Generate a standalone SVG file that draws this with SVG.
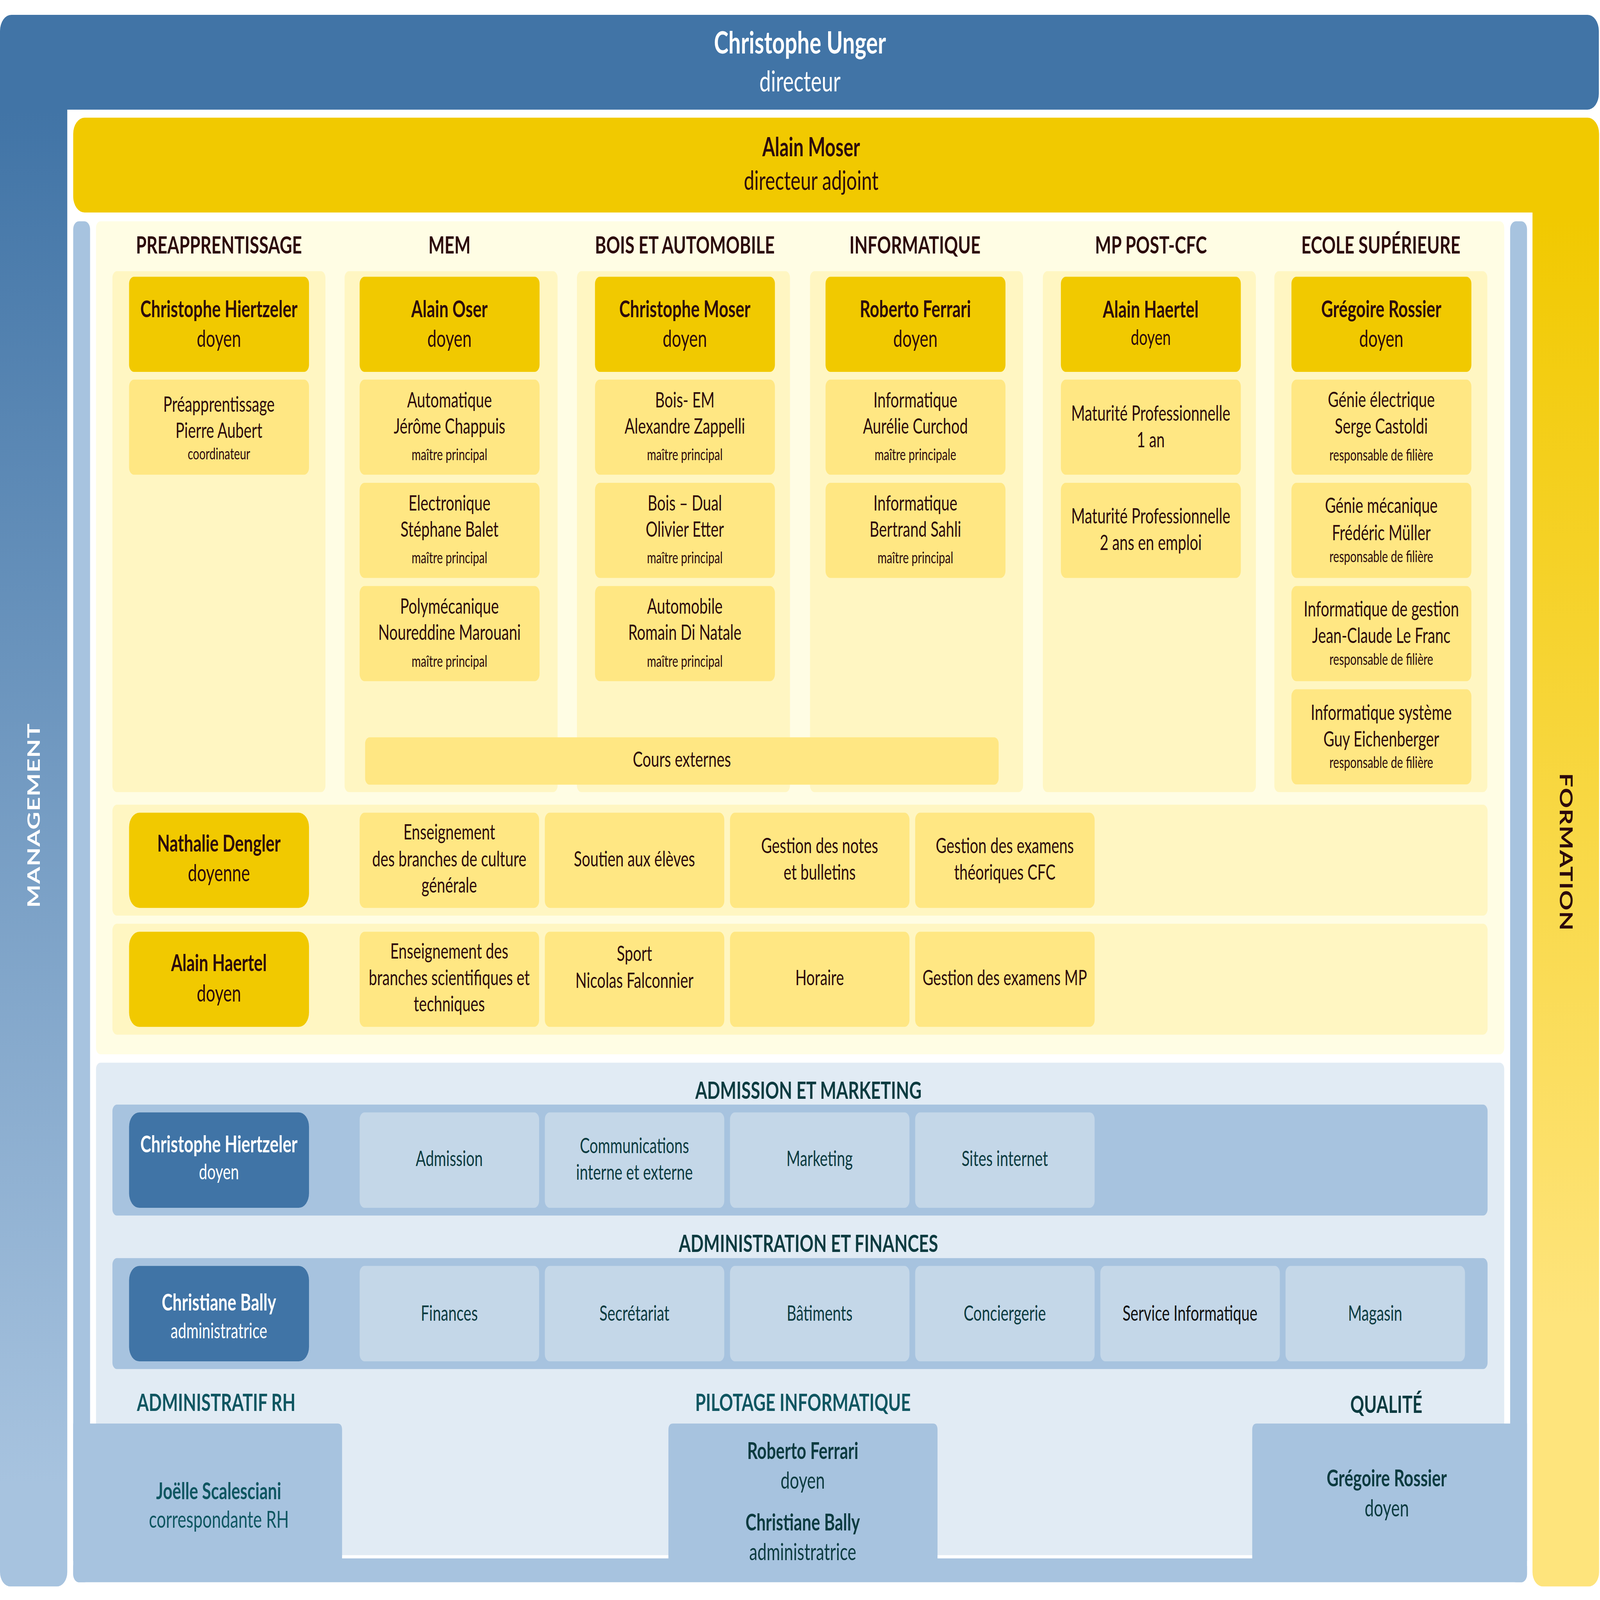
<svg xmlns="http://www.w3.org/2000/svg" width="7016" height="4961" viewBox="0 0 7016 4961" preserveAspectRatio="none" style="width:100vw;height:100vh">
<defs>
<linearGradient id="gBlue" gradientUnits="userSpaceOnUse" x1="0" y1="340" x2="0" y2="4600">
<stop offset="0" stop-color="#4174a6"/><stop offset="1" stop-color="#a7c3df"/>
</linearGradient>
<linearGradient id="gYel" gradientUnits="userSpaceOnUse" x1="0" y1="659" x2="0" y2="4100">
<stop offset="0" stop-color="#f1c900"/><stop offset="1" stop-color="#fee47c"/>
</linearGradient>
<style>
text{font-family:Lato,'Open Sans','Liberation Sans',sans-serif;text-anchor:middle;fill:#2c0a0c}
.h{font-size:75px;font-weight:700}
.nm{font-size:72px;font-weight:700}
.ti{font-size:72px}
.s1{font-size:65px}
.s2{font-size:49px}
.w{fill:#ffffff}
.tk{fill:#0c3b40}
.tt{fill:#0f5661}
.bk{fill:#111111}
.dy{fill:#f1c900}
.sb{fill:#ffe783}
.cb{fill:#fff6c2}
.bd{fill:#4074a6}
.br{fill:#a7c3df}
.bs{fill:#c4d7e8}
</style>
</defs>
<rect width="7016" height="4961" fill="#ffffff"/>

<g id="management">
<path d="M50,46 H6961 A50,50 0 0 1 7011,96 V290 A50,50 0 0 1 6961,340 H295 V4874 A45,45 0 0 1 250,4919 H45 A45,45 0 0 1 0,4874 V96 A50,50 0 0 1 50,46 Z" fill="url(#gBlue)"/>
<text class="w" transform="translate(148,2528) rotate(-90)" x="0" y="27" style="font-size:76px;font-weight:700;letter-spacing:2px">MANAGEMENT</text>
</g>
<g id="directeur">
<text class="w" x="3508" y="166" style="font-size:96px;font-weight:700">Christophe Unger</text>
<text class="w" x="3508" y="284" style="font-size:90px">directeur</text>
</g>

<g id="formation">
<path d="M371,365 H6962 A50,50 0 0 1 7012,415 V4874 A45,45 0 0 1 6967,4919 H6765 A45,45 0 0 1 6720,4874 V659 H371 A50,50 0 0 1 321,609 V415 A50,50 0 0 1 371,365 Z" fill="url(#gYel)"/>
<text transform="translate(6868,2642) rotate(90)" x="0" y="28" style="font-size:78px;font-weight:700;letter-spacing:2px">FORMATION</text>
</g>
<g id="directeur-adjoint">
<text x="3557" y="485" style="font-size:80px;font-weight:700">Alain Moser</text>
<text x="3557" y="589" style="font-size:82px">directeur adjoint</text>
</g>

<g id="frame">
<rect class="br" x="321" y="686" width="74" height="4220" rx="25"/>
<rect class="br" x="6622" y="686" width="74" height="4220" rx="25"/>
<rect class="br" x="321" y="4832" width="6375" height="74" rx="25"/>
<rect x="421" y="686" width="6175" height="2583" rx="20" fill="#fffde4"/>
<rect x="421" y="3295" width="6175" height="1527" rx="20" fill="#e1ebf4"/>
</g>

<g id="col-preapprentissage">
<rect class="cb" x="493" y="841" width="934" height="1615" rx="20"/>
<text class="h" x="960" y="786">PREAPPRENTISSAGE</text>
<rect class="dy" x="566" y="858" width="789" height="295" rx="22"/>
<text class="nm" x="960" y="983">Christophe Hiertzeler</text>
<text class="ti" x="960" y="1075">doyen</text>
<rect class="sb" x="566" y="1177" width="789" height="295" rx="22"/>
<text class="s1" x="960" y="1276">Préapprentissage</text>
<text class="s1" x="960" y="1358">Pierre Aubert</text>
<text class="s2" x="960" y="1424">coordinateur</text>
</g>

<g id="col-mem">
<rect class="cb" x="1511" y="841" width="934" height="1615" rx="20"/>
<text class="h" x="1971" y="786">MEM</text>
<rect class="dy" x="1577" y="858" width="789" height="295" rx="22"/>
<text class="nm" x="1971" y="983">Alain Oser</text>
<text class="ti" x="1971" y="1075">doyen</text>
<rect class="sb" x="1577" y="1177" width="789" height="295" rx="22"/>
<text class="s1" x="1971" y="1263">Automatique</text>
<text class="s1" x="1971" y="1344">Jérôme Chappuis</text>
<text class="s2" x="1971" y="1427">maître principal</text>
<rect class="sb" x="1577" y="1497" width="789" height="295" rx="22"/>
<text class="s1" x="1971" y="1583">Electronique</text>
<text class="s1" x="1971" y="1664">Stéphane Balet</text>
<text class="s2" x="1971" y="1747">maître principal</text>
<rect class="sb" x="1577" y="1817" width="789" height="295" rx="22"/>
<text class="s1" x="1971" y="1903">Polymécanique</text>
<text class="s1" x="1971" y="1984">Noureddine Marouani</text>
<text class="s2" x="1971" y="2067">maître principal</text>
</g>

<g id="col-bois">
<rect class="cb" x="2530" y="841" width="934" height="1615" rx="20"/>
<text class="h" x="3003" y="786">BOIS ET AUTOMOBILE</text>
<rect class="dy" x="2609" y="858" width="789" height="295" rx="22"/>
<text class="nm" x="3003" y="983">Christophe Moser</text>
<text class="ti" x="3003" y="1075">doyen</text>
<rect class="sb" x="2609" y="1177" width="789" height="295" rx="22"/>
<text class="s1" x="3003" y="1263">Bois- EM</text>
<text class="s1" x="3003" y="1344">Alexandre Zappelli</text>
<text class="s2" x="3003" y="1427">maître principal</text>
<rect class="sb" x="2609" y="1497" width="789" height="295" rx="22"/>
<text class="s1" x="3003" y="1583">Bois – Dual</text>
<text class="s1" x="3003" y="1664">Olivier Etter</text>
<text class="s2" x="3003" y="1747">maître principal</text>
<rect class="sb" x="2609" y="1817" width="789" height="295" rx="22"/>
<text class="s1" x="3003" y="1903">Automobile</text>
<text class="s1" x="3003" y="1984">Romain Di Natale</text>
<text class="s2" x="3003" y="2067">maître principal</text>
</g>

<g id="col-informatique">
<rect class="cb" x="3552" y="841" width="934" height="1615" rx="20"/>
<text class="h" x="4012" y="786">INFORMATIQUE</text>
<rect class="dy" x="3620" y="858" width="789" height="295" rx="22"/>
<text class="nm" x="4014" y="983">Roberto Ferrari</text>
<text class="ti" x="4014" y="1075">doyen</text>
<rect class="sb" x="3620" y="1177" width="789" height="295" rx="22"/>
<text class="s1" x="4014" y="1263">Informatique</text>
<text class="s1" x="4014" y="1344">Aurélie Curchod</text>
<text class="s2" x="4014" y="1427">maître principale</text>
<rect class="sb" x="3620" y="1497" width="789" height="295" rx="22"/>
<text class="s1" x="4014" y="1583">Informatique</text>
<text class="s1" x="4014" y="1664">Bertrand Sahli</text>
<text class="s2" x="4014" y="1747">maître principal</text>
</g>

<g id="col-mp">
<rect class="cb" x="4573" y="841" width="934" height="1615" rx="20"/>
<text class="h" x="5047" y="786">MP POST-CFC</text>
<rect class="dy" x="4652" y="858" width="789" height="295" rx="22"/>
<text class="nm" x="5046" y="985">Alain Haertel</text>
<text class="s1" x="5046" y="1070">doyen</text>
<rect class="sb" x="4652" y="1177" width="789" height="295" rx="22"/>
<text class="s1" x="5046" y="1304">Maturité Professionnelle</text>
<text class="s1" x="5046" y="1387">1 an</text>
<rect class="sb" x="4652" y="1497" width="789" height="295" rx="22"/>
<text class="s1" x="5046" y="1623">Maturité Professionnelle</text>
<text class="s1" x="5046" y="1705">2 ans en emploi</text>
</g>

<g id="col-es">
<rect class="cb" x="5588" y="841" width="934" height="1615" rx="20"/>
<text class="h" x="6055" y="786">ECOLE SUPÉRIEURE</text>
<rect class="dy" x="5663" y="858" width="789" height="295" rx="22"/>
<text class="nm" x="6057" y="983">Grégoire Rossier</text>
<text class="ti" x="6057" y="1075">doyen</text>
<rect class="sb" x="5663" y="1177" width="789" height="295" rx="22"/>
<text class="s1" x="6057" y="1262">Génie électrique</text>
<text class="s1" x="6057" y="1345">Serge Castoldi</text>
<text class="s2" x="6057" y="1428">responsable de filière</text>
<rect class="sb" x="5663" y="1497" width="789" height="295" rx="22"/>
<text class="s1" x="6057" y="1590">Génie mécanique</text>
<text class="s1" x="6057" y="1675">Frédéric Müller</text>
<text class="s2" x="6057" y="1743">responsable de filière</text>
<rect class="sb" x="5663" y="1817" width="789" height="295" rx="22"/>
<text class="s1" x="6057" y="1911">Informatique de gestion</text>
<text class="s1" x="6057" y="1994">Jean-Claude Le Franc</text>
<text class="s2" x="6057" y="2062">responsable de filière</text>
<rect class="sb" x="5663" y="2137" width="789" height="295" rx="22"/>
<text class="s1" x="6057" y="2232">Informatique système</text>
<text class="s1" x="6057" y="2315">Guy Eichenberger</text>
<text class="s2" x="6057" y="2381">responsable de filière</text>
</g>

<g id="cours-externes">
<rect class="sb" x="1601" y="2286" width="2778" height="147" rx="20"/>
<text class="s1" x="2990" y="2377">Cours externes</text>
</g>

<g id="row-culture-generale">
<rect class="cb" x="493" y="2495" width="6030" height="344" rx="20"/>
<rect class="dy" x="566" y="2520" width="789" height="295" rx="45"/>
<text class="nm" x="960" y="2640">Nathalie Dengler</text>
<text class="ti" x="960" y="2732">doyenne</text>
<rect class="sb" x="1577" y="2520" width="787" height="295" rx="22"/>
<text class="s1" x="1970" y="2603">Enseignement</text>
<text class="s1" x="1970" y="2686">des branches de culture</text>
<text class="s1" x="1970" y="2768">générale</text>
<rect class="sb" x="2389" y="2520" width="787" height="295" rx="22"/>
<text class="s1" x="2782" y="2686">Soutien aux élèves</text>
<rect class="sb" x="3201" y="2520" width="787" height="295" rx="22"/>
<text class="s1" x="3594" y="2645">Gestion des notes</text>
<text class="s1" x="3594" y="2727">et bulletins</text>
<rect class="sb" x="4013" y="2520" width="787" height="295" rx="22"/>
<text class="s1" x="4406" y="2645">Gestion des examens</text>
<text class="s1" x="4406" y="2727">théoriques CFC</text>
</g>

<g id="row-scientifique">
<rect class="cb" x="493" y="2864" width="6030" height="344" rx="20"/>
<rect class="dy" x="566" y="2889" width="789" height="295" rx="45"/>
<text class="nm" x="960" y="3011">Alain Haertel</text>
<text class="ti" x="960" y="3105">doyen</text>
<rect class="sb" x="1577" y="2889" width="787" height="295" rx="22"/>
<text class="s1" x="1970" y="2972">Enseignement des</text>
<text class="s1" x="1970" y="3055">branches scientifiques et</text>
<text class="s1" x="1970" y="3136">techniques</text>
<rect class="sb" x="2389" y="2889" width="787" height="295" rx="22"/>
<text class="s1" x="2782" y="2980">Sport</text>
<text class="s1" x="2782" y="3063">Nicolas Falconnier</text>
<rect class="sb" x="3201" y="2889" width="787" height="295" rx="22"/>
<text class="s1" x="3594" y="3055">Horaire</text>
<rect class="sb" x="4013" y="2889" width="787" height="295" rx="22"/>
<text class="s1" x="4406" y="3055">Gestion des examens MP</text>
</g>

<g id="admission-marketing">
<text class="h tk" x="3545" y="3407">ADMISSION ET MARKETING</text>
<rect class="br" x="493" y="3425" width="6030" height="344" rx="20"/>
<rect class="bd" x="566" y="3449" width="789" height="296" rx="45"/>
<text class="nm w" x="960" y="3573">Christophe Hiertzeler</text>
<text class="s1 w" x="960" y="3657">doyen</text>
<rect class="bs" x="1577" y="3449" width="787" height="296" rx="22"/>
<text class="s1 tk" x="1970" y="3615">Admission</text>
<rect class="bs" x="2389" y="3449" width="787" height="296" rx="22"/>
<text class="s1 tk" x="2782" y="3576">Communications</text>
<text class="s1 tk" x="2782" y="3658">interne et externe</text>
<rect class="bs" x="3201" y="3449" width="787" height="296" rx="22"/>
<text class="s1 tk" x="3594" y="3615">Marketing</text>
<rect class="bs" x="4013" y="3449" width="787" height="296" rx="22"/>
<text class="s1 tk" x="4406" y="3615">Sites internet</text>
</g>

<g id="administration-finances">
<text class="h tk" x="3545" y="3882">ADMINISTRATION ET FINANCES</text>
<rect class="br" x="493" y="3901" width="6030" height="344" rx="20"/>
<rect class="bd" x="566" y="3925" width="789" height="296" rx="45"/>
<text class="nm w" x="960" y="4064">Christiane Bally</text>
<text class="s1 w" x="960" y="4149">administratrice</text>
<rect class="bs" x="1577" y="3925" width="787" height="296" rx="22"/>
<text class="s1 tk" x="1970" y="4095">Finances</text>
<rect class="bs" x="2389" y="3925" width="787" height="296" rx="22"/>
<text class="s1 tk" x="2782" y="4095">Secrétariat</text>
<rect class="bs" x="3201" y="3925" width="787" height="296" rx="22"/>
<text class="s1 tk" x="3594" y="4095">Bâtiments</text>
<rect class="bs" x="4013" y="3925" width="787" height="296" rx="22"/>
<text class="s1 tk" x="4406" y="4095">Conciergerie</text>
<rect class="bs" x="4825" y="3925" width="787" height="296" rx="22"/>
<text class="s1 bk" x="5218" y="4095">Service Informatique</text>
<rect class="bs" x="5637" y="3925" width="787" height="296" rx="22"/>
<text class="s1 tk" x="6030" y="4095">Magasin</text>
</g>

<g id="administratif-rh">
<text class="h tt" x="948" y="4375">ADMINISTRATIF RH</text>
<path class="br" d="M321,4414 H1480 Q1500,4414 1500,4434 V4840 H321 Z"/>
<text class="nm tt" x="959" y="4649">Joëlle Scalesciani</text>
<text class="ti tt" x="960" y="4737">correspondante RH</text>
</g>

<g id="pilotage-informatique">
<text class="h tt" x="3521" y="4375">PILOTAGE INFORMATIQUE</text>
<path class="br" d="M2931,4434 Q2931,4414 2951,4414 H4091 Q4111,4414 4111,4434 V4850 H2931 Z"/>
<text class="nm tk" x="3520" y="4524">Roberto Ferrari</text>
<text class="ti tk" x="3520" y="4616">doyen</text>
<text class="nm tk" x="3520" y="4746">Christiane Bally</text>
<text class="ti tk" x="3520" y="4837">administratrice</text>
</g>

<g id="qualite">
<text class="h tk" x="6079" y="4381">QUALITÉ</text>
<path class="br" d="M5491,4434 Q5491,4414 5511,4414 H6696 V4840 H5491 Z"/>
<text class="nm tk" x="6081" y="4609">Grégoire Rossier</text>
<text class="ti tk" x="6081" y="4702">doyen</text>
</g>
</svg>
